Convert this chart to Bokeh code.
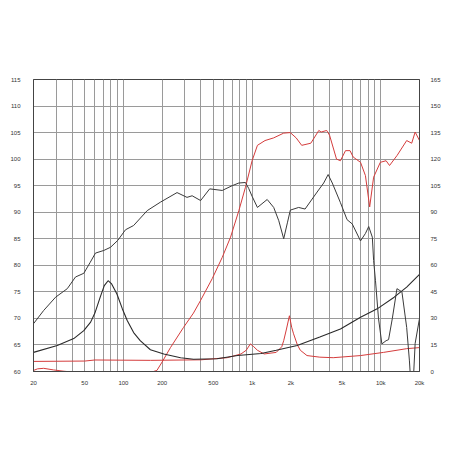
from bokeh.plotting import figure
from bokeh.models import Range1d, LinearAxis, FixedTicker, Label
from bokeh.embed import file_html
from bokeh.resources import INLINE

# ---- data ----
spl_f = [20, 24, 29.7, 36.6, 42.4, 49.2, 55, 60.6, 70.4, 79.4, 90.4, 103.8, 120, 153, 194,
         261, 312, 342, 398, 468, 586, 700, 789, 888, 940, 1000, 1100, 1310, 1472, 1612,
         1760, 1880, 1982, 2300, 2580, 3200, 3600, 3900, 4200, 4860, 5470, 6000, 6960, 7600,
         8060, 8600, 8800, 9100, 9600, 10200, 11000, 11500, 12300, 13360, 14600, 15900,
         16700, 17200, 17800, 18500, 20000]
spl_db = [69.0, 71.5, 74.0, 75.6, 77.8, 78.5, 80.5, 82.3, 82.8, 83.4, 84.7, 86.7, 87.5, 90.3, 91.9,
          93.7, 92.8, 93.1, 92.2, 94.4, 94.1, 95.0, 95.5, 95.6, 94.5, 93.0, 90.9, 92.4, 90.9, 88.4,
          85.0, 88.0, 90.4, 90.9, 90.6, 93.8, 95.5, 97.1, 95.5, 91.8, 88.6, 87.8, 84.6, 86.0,
          87.3, 85.3, 80.9, 77.1, 70.0, 65.2, 65.8, 66.0, 70.0, 75.6, 75.0, 68.3,
          62.0, 57.0, 57.0, 65.3, 70.0]

spl2_f = [20, 21.5, 24, 28.6, 34.5, 40, 160, 171, 182, 200, 232, 293, 350, 398, 490, 586, 680,
          789, 888, 1000, 1100, 1260, 1470, 1760, 1980, 2200, 2430, 2860, 3300, 3440, 3800,
          4000, 4530, 4860, 5320, 5770, 6100, 6960, 7600, 8200, 8800, 9920, 11000, 11700,
          13400, 15900, 17400, 18500, 20000]
spl2_db = [60.2, 60.5, 60.6, 60.3, 60.05, 59.9, 59.9, 60.0, 60.2, 61.8, 64.5, 68.3, 71.0, 73.4, 77.5, 81.5, 85.3,
           90.3, 94.7, 99.7, 102.6, 103.5, 104.0, 104.9, 105.0, 104.0, 102.6, 103.0, 105.4, 105.1, 105.4,
           104.5, 100.0, 99.7, 101.6, 101.6, 100.4, 99.4, 96.9, 91.0, 96.6, 99.4, 99.7, 98.8,
           100.7, 103.5, 103.0, 105.1, 103.5]

imp_f = [20, 30.6, 41.1, 49.2, 55.6, 60, 66, 71, 76, 81, 89, 98, 107, 120, 135, 162, 206, 278,
         351, 534, 772, 1175, 1540, 2240, 3360, 4860, 6960, 9380, 12710, 15900, 20000]
imp_ohm = [10.8, 14.7, 18.6, 23.1, 27.9, 33.0, 42.0, 48.5, 51.3, 49.5, 43.8, 35.5, 28.8, 22.0, 17.4,
           12.3, 9.9, 7.8, 6.9, 7.2, 9.0, 10.2, 12.0, 14.7, 19.5, 24.0, 30.6, 35.4, 42.0, 47.7, 54.9]

imp2_f = [20, 50, 60, 162, 400, 640, 820, 900, 970, 1030, 1100, 1240, 1540, 1700, 1760, 1850,
          1950, 2030, 2100, 2250, 2370, 2670, 3360, 4270, 6960, 10520, 15900, 20000]
imp2_ohm = [5.7, 5.9, 6.5, 6.3, 6.6, 7.8, 9.9, 12.0, 15.6, 14.0, 12.0, 9.9, 10.8, 14.0, 17.4, 24.0,
            31.5, 25.0, 21.3, 15.0, 12.0, 9.0, 8.1, 7.8, 9.0, 10.8, 12.9, 13.5]

x_grid = [20, 30, 40, 50, 60, 70, 80, 90, 100, 200, 300, 400, 500, 600, 700, 800, 900, 1000,
          2000, 3000, 4000, 5000, 6000, 7000, 8000, 9000, 10000, 20000]
x_ticks = [20, 50, 100, 200, 500, 1000, 2000, 5000, 10000, 20000]
x_labels = ["20", "50", "100", "200", "500", "1k", "2k", "5k", "10k", "20k"]
db_ticks = [60, 65, 70, 75, 80, 85, 90, 95, 100, 105, 110, 115]
ohm_ticks = [0, 15, 30, 45, 60, 75, 90, 105, 120, 135, 150, 165]

FONT = "Liberation Sans"
FS = "6px"
TXT = "#333333"

p = figure(width=452, height=436, x_axis_type="log", output_backend="svg",
           toolbar_location=None, x_range=Range1d(20, 20000), y_range=Range1d(60, 115),
           min_border_left=33, min_border_right=33, min_border_top=79, min_border_bottom=65)
p.extra_y_ranges = {"imp": Range1d(0, 165)}

p.outline_line_color = "#444444"
p.outline_line_width = 1
p.background_fill_color = "white"
p.border_fill_color = "white"

# grids
p.xgrid.ticker = FixedTicker(ticks=x_grid)
p.ygrid.ticker = FixedTicker(ticks=db_ticks)
for g in (p.xgrid, p.ygrid):
    g.grid_line_color = "#9a9a9a"
    g.grid_line_width = 1
    g.grid_line_alpha = 1.0

# bottom axis
xa = p.xaxis[0]
xa.ticker = FixedTicker(ticks=x_ticks)
xa.major_label_overrides = {t: l for t, l in zip(x_ticks, x_labels)}
xa.major_label_text_align = "left"
xa.major_label_standoff = 2
xa.minor_tick_line_color = None
xa.major_tick_line_color = None
xa.axis_line_color = "#444444"

# left axis
ya = p.yaxis[0]
ya.ticker = FixedTicker(ticks=db_ticks)
ya.major_label_standoff = 7
ya.minor_tick_line_color = None
ya.major_tick_line_color = None
ya.axis_line_color = "#444444"

# right axis
ra = LinearAxis(y_range_name="imp", ticker=FixedTicker(ticks=ohm_ticks))
ra.major_label_standoff = 5
ra.minor_tick_line_color = None
ra.major_tick_line_color = None
ra.axis_line_color = "#444444"
p.add_layout(ra, "right")

for ax in (xa, ya, ra):
    ax.major_label_text_font = FONT
    ax.major_label_text_font_size = FS
    ax.major_label_text_color = TXT

# curves
p.line(spl2_f, spl2_db, line_color="#d43c3c", line_width=1)
p.line(imp2_f, imp2_ohm, y_range_name="imp", line_color="#d43c3c", line_width=1)
p.line(imp_f, imp_ohm, y_range_name="imp", line_color="#2a2a2a", line_width=1.1)
p.line(spl_f, spl_db, line_color="#3a3a3a", line_width=1)

# texts
p.add_layout(Label(x=20, y=116.7, x_offset=3, text="(dB)  Sound pressure", text_font=FONT,
                   text_font_size=FS, text_color=TXT, text_baseline="middle", text_align="left"))
p.add_layout(Label(x=20000, y=116.7, text="Impedance  (ohm)", text_font=FONT,
                   text_font_size=FS, text_color=TXT, text_baseline="middle", text_align="right"))
p.add_layout(Label(x=20000, y=57.7, text="Frequency  (Hz)", text_font=FONT,
                   text_font_size=FS, text_color=TXT, text_baseline="middle", text_align="right"))

open("out.html", "w").write(file_html(p, INLINE))
